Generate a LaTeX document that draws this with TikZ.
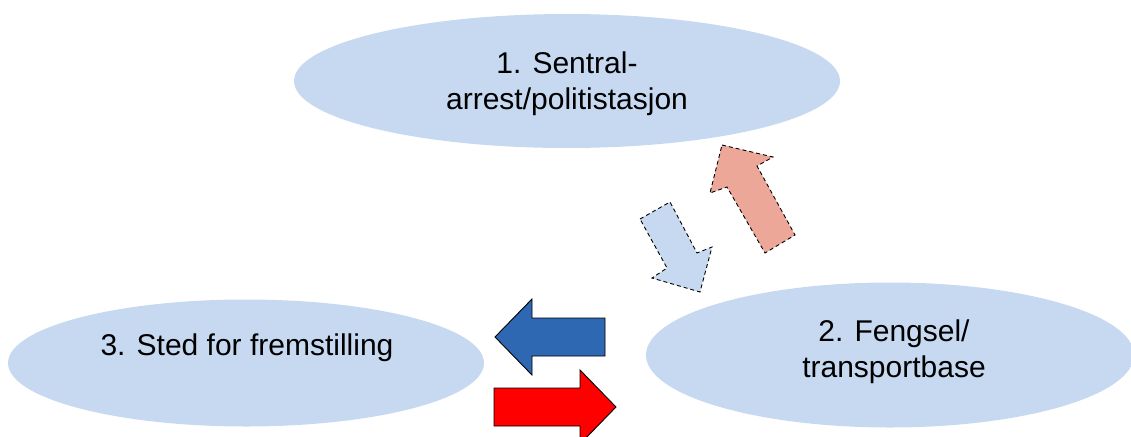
\documentclass[tikz,border=0pt]{standalone}
\usepackage{fontspec}
\setmainfont{Liberation Sans}
\usetikzlibrary{shapes.geometric}
\definecolor{ellblue}{HTML}{C6D9F1}
\definecolor{darkblue}{HTML}{2E67B2}
\definecolor{salmon}{HTML}{EDA799}
\tikzset{
  ell/.style={ellipse, fill=ellblue, draw=none, inner sep=0pt},
  lbl/.style={font=\fontsize{30}{36}\selectfont, align=center, inner sep=0pt},
  blockarrow/.style={draw=black, line width=0.9pt, line join=miter},
  dasharrow/.style={draw=black, line width=0.9pt, dash pattern=on 4pt off 3pt, line join=miter}
}
\begin{document}
\begin{tikzpicture}[x=1pt,y=-1pt]
\useasboundingbox (0,0) rectangle (1131,436);
% ellipses
\node[ell, minimum width=546pt, minimum height=134pt] (e1) at (567,81) {};
\node[ell, minimum width=476pt, minimum height=127pt] (e3) at (246,363) {};
\node[ell, minimum width=488pt, minimum height=145pt] (e2) at (890,355) {};
% labels
\node[lbl] (t1) at (567,84) {1. Sentral-\\arrest/politistasjon};
\node[lbl] (t3) at (247,348) {3. Sted for fremstilling};
\node[lbl] (t2) at (894,352) {2. Fengsel/\\transportbase};
% dashed light-blue arrow (1 -> 2)
\filldraw[dasharrow, fill=ellblue]
  (640,219) -- (670,202) -- (697,253) -- (712,247) -- (700,292) -- (652,278) -- (667,268) -- cycle;
% dashed salmon arrow (2 -> 1)
\filldraw[dasharrow, fill=salmon]
  (722,145) -- (773,157) -- (757,166) -- (795,235) -- (765,253) -- (727,187) -- (710,193) -- cycle;
% blue arrow (2 -> 3)
\filldraw[blockarrow, fill=darkblue]
  (495,337) -- (532,299) -- (532,318) -- (605,318) -- (605,356) -- (532,356) -- (532,375) -- cycle;
% red arrow (3 -> 2)
\filldraw[blockarrow, fill=red]
  (494,388) -- (580,388) -- (580,370) -- (616,407) -- (580,444) -- (580,426) -- (494,426) -- cycle;
\end{tikzpicture}
\end{document}
